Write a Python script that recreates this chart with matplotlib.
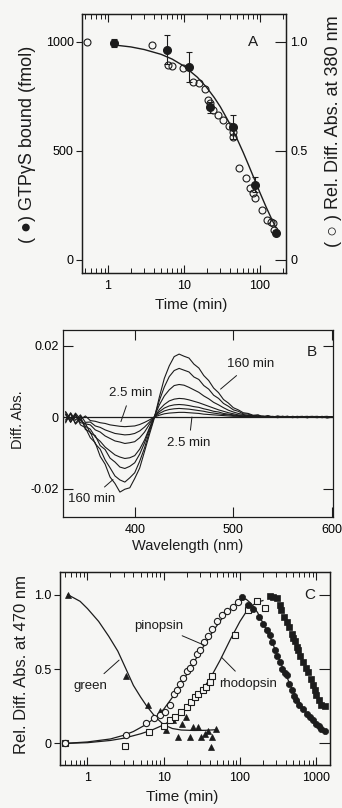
import numpy as np
import matplotlib
matplotlib.use('Agg')
import matplotlib.pyplot as plt
from matplotlib.ticker import LogLocator, NullFormatter, FixedLocator, FixedFormatter

plt.rcParams['font.family'] = ['Liberation Sans', 'DejaVu Sans']
plt.rcParams['axes.unicode_minus'] = False

# ---------------- Panel A data ----------------
gtp_t = [1.2, 6.0, 11.5, 22, 44, 86, 163]
gtp_v = [995, 965, 885, 700, 610, 345, 125]
gtp_err = [20, 65, 70, 25, 55, 35, 12]

abs_t = [0.53, 3.8, 6.2, 7.0, 9.6, 13, 15.7, 19, 21, 22, 24, 28, 33, 39, 44, 44,
         53, 65, 75, 80, 86, 106, 123, 139, 148, 152]
abs_v = [1.0, 0.986, 0.894, 0.89, 0.88, 0.817, 0.812, 0.784, 0.734, 0.72, 0.688, 0.665,
         0.642, 0.615, 0.587, 0.564, 0.422, 0.376, 0.33, 0.307, 0.284, 0.229, 0.183,
         0.174, 0.17, 0.138]

fitA_t = [1.2, 2, 3, 5, 7, 10, 15, 20, 25, 30, 40, 50, 60, 70, 85, 100, 120, 140, 163]
fitA_v = [0.986, 0.977, 0.965, 0.943, 0.921, 0.889, 0.838, 0.79, 0.745, 0.703, 0.625,
          0.555, 0.494, 0.439, 0.368, 0.308, 0.244, 0.193, 0.147]

# ---------------- Panel B data (Diff. Abs. x 1e-3) ----------------
wl = np.arange(330, 605, 5)
spec_160 = [1.2, -1.5, 0.8, -2.2, -3.0, -5.8, -7.2, -11.0, -13.2, -16.8, -18.6, -21.0, -20.2,
            -19.8, -17.2, -14.3, -9.6, -4.8, -0.2, 5.6, 10.8, 14.3, 16.9, 17.6, 17.0, 16.5,
            14.8, 13.7, 11.6, 10.2, 8.1, 6.8, 4.9, 3.9, 2.6, 2.0, 1.2, 1.0, 0.5, 0.6, 0.1,
            0.4, -0.1, 0.3, 0.0, 0.2, -0.2, 0.1, 0.2, -0.2, 0.1, -0.1, 0.2, -0.3, 0.0]
spec_80 = [-0.8, 1.0, -1.8, 0.2, -3.5, -4.2, -7.5, -9.0, -12.0, -14.2, -16.5, -17.6, -18.2,
           -17.0, -15.6, -12.4, -8.6, -4.0, 0.1, 4.6, 8.4, 11.3, 13.0, 13.6, 13.1, 12.6,
           11.2, 10.5, 8.8, 7.8, 6.1, 5.2, 3.8, 3.0, 2.0, 1.6, 0.9, 0.8, 0.3, 0.5, 0.0,
           0.3, 0.1, -0.2, 0.2, 0.0, 0.1, -0.2, 0.1, 0.2, -0.1, 0.1, -0.2, 0.1, 0.0]
spec_40 = [1.5, -0.6, 0.4, -1.6, -1.8, -4.5, -5.2, -8.0, -9.1, -11.5, -12.6, -14.0, -14.4,
           -13.8, -12.8, -10.4, -7.2, -3.3, 0.2, 3.4, 5.9, 7.6, 8.8, 9.1, 8.9, 8.3,
           7.6, 6.9, 5.9, 5.1, 4.1, 3.4, 2.6, 1.9, 1.4, 1.0, 0.7, 0.4, 0.4, 0.1, 0.3,
           0.0, 0.2, -0.1, 0.1, 0.2, -0.1, 0.1, 0.0, -0.2, 0.1, 0.2, -0.1, 0.0, 0.1]
spec_20 = [-1.2, 0.9, -2.0, -0.5, -2.6, -3.4, -5.6, -6.8, -8.4, -9.5, -10.6, -11.2, -11.6,
           -11.4, -10.8, -9.0, -6.4, -3.0, 0.0, 2.1, 3.5, 4.5, 5.0, 5.2, 5.1, 4.8,
           4.4, 4.0, 3.5, 3.0, 2.5, 2.0, 1.6, 1.2, 0.9, 0.6, 0.5, 0.2, 0.3, 0.0, 0.2,
           -0.1, 0.1, 0.2, -0.1, 0.1, 0.0, 0.2, -0.1, 0.1, 0.0, -0.2, 0.1, 0.2, -0.1]
spec_10 = [0.8, -1.4, 0.5, -1.0, -1.9, -2.2, -3.6, -4.2, -5.3, -6.0, -6.7, -7.0, -7.4,
           -7.2, -6.9, -5.8, -4.2, -2.0, 0.1, 1.5, 2.5, 3.1, 3.4, 3.5, 3.4, 3.2,
           2.9, 2.7, 2.3, 2.0, 1.6, 1.4, 1.0, 0.8, 0.6, 0.4, 0.3, 0.2, 0.1, 0.2, 0.0,
           0.1, -0.1, 0.1, 0.2, -0.1, 0.0, 0.1, -0.1, 0.1, 0.2, 0.0, -0.1, 0.1, 0.0]
spec_5 = [-1.6, 1.2, -0.9, 0.6, -1.5, -1.4, -2.5, -2.9, -3.6, -4.1, -4.6, -4.8, -5.0,
          -4.9, -4.6, -3.9, -2.8, -1.4, 0.0, 1.0, 1.7, 2.1, 2.3, 2.4, 2.3, 2.2,
          2.0, 1.8, 1.6, 1.3, 1.1, 0.9, 0.7, 0.6, 0.4, 0.3, 0.2, 0.2, 0.0, 0.1, 0.1,
          -0.1, 0.1, 0.0, 0.1, -0.1, 0.2, 0.0, 0.1, -0.1, 0.0, 0.1, 0.0, -0.1, 0.1]
spec_2p5 = [0.6, -0.9, 1.1, -0.7, 0.3, -1.0, -1.2, -1.6, -1.8, -2.2, -2.4, -2.6, -2.7,
            -2.6, -2.5, -2.1, -1.5, -0.8, 0.0, 0.5, 0.9, 1.1, 1.2, 1.3, 1.3, 1.2,
            1.1, 1.0, 0.8, 0.7, 0.6, 0.5, 0.4, 0.3, 0.2, 0.2, 0.1, 0.1, 0.0, 0.1, -0.1,
            0.1, 0.0, 0.1, -0.1, 0.0, 0.1, -0.1, 0.0, 0.1, -0.1, 0.0, 0.1, 0.0, -0.1]
spectra = [spec_2p5, spec_5, spec_10, spec_20, spec_40, spec_80, spec_160]

# ---------------- Panel C data ----------------
green_t = [0.55, 3.2, 6.2, 9.0, 10.8, 13.3, 15.6, 17.5, 19.5, 22, 24, 28, 31, 35, 38, 42, 43, 48]
green_v = [1.0, 0.45, 0.26, 0.22, 0.09, 0.155, 0.045, 0.13, 0.175, 0.04, 0.11, 0.11, 0.04,
           0.065, 0.085, -0.025, 0.04, 0.10]
green_fit_t = [0.55, 0.8, 1.0, 1.4, 1.9, 2.5, 3.2, 4.0, 5.0, 6.0, 7.7, 10, 13, 17, 25, 35, 48]
green_fit_v = [1.0, 0.955, 0.906, 0.82, 0.72, 0.62, 0.50, 0.39, 0.31, 0.25, 0.18, 0.125,
               0.10, 0.09, 0.087, 0.088, 0.092]

pin_t = [0.5, 3.2, 5.8, 7.5, 9.0, 10.5, 12, 13.5, 15, 16.5, 18, 20, 22, 24, 27, 30, 34, 38,
         43, 50, 58, 67, 80, 95]
pin_v = [0.0, 0.055, 0.14, 0.17, 0.19, 0.21, 0.26, 0.33, 0.36, 0.40, 0.44, 0.49, 0.51,
         0.55, 0.60, 0.63, 0.68, 0.72, 0.77, 0.82, 0.86, 0.89, 0.92, 0.95]
pin_dec_t = [105, 128, 150, 175, 200, 225, 245, 265, 285, 310, 333, 360, 390, 410, 440, 475,
             510, 550, 600, 680, 750, 820, 900, 1000, 1080, 1170, 1300]
pin_dec_v = [0.985, 0.93, 0.90, 0.85, 0.805, 0.76, 0.727, 0.68, 0.626, 0.59, 0.547, 0.50,
             0.47, 0.458, 0.40, 0.357, 0.32, 0.29, 0.26, 0.233, 0.20, 0.177, 0.16, 0.132,
             0.12, 0.099, 0.085]
pin_fit_t = [0.5, 1, 2, 3, 4, 6, 8, 10, 13, 17, 22, 28, 35, 45, 60, 80, 100, 120, 140, 170,
             200, 250, 300, 400, 500, 650, 800, 1000, 1300]
pin_fit_v = [0.0, 0.01, 0.03, 0.055, 0.08, 0.13, 0.18, 0.23, 0.31, 0.40, 0.50, 0.59, 0.67,
             0.76, 0.85, 0.92, 0.96, 0.97, 0.94, 0.88, 0.81, 0.71, 0.61, 0.46, 0.35, 0.25,
             0.18, 0.13, 0.09]

rho_t = [0.5, 3.1, 6.5, 10, 12, 14, 16.8, 20, 23, 26, 28, 33, 36, 40, 43, 85, 128, 165, 210]
rho_v = [0.0, -0.015, 0.075, 0.12, 0.155, 0.177, 0.21, 0.245, 0.278, 0.31, 0.334, 0.357,
         0.379, 0.41, 0.45, 0.73, 0.895, 0.96, 0.91]
rho_dec_t = [245, 275, 303, 330, 350, 380, 410, 440, 475, 500, 530, 560, 580, 620, 680, 730,
             780, 850, 920, 960, 1000, 1080, 1170, 1300]
rho_dec_v = [0.99, 0.985, 0.974, 0.93, 0.895, 0.85, 0.816, 0.78, 0.738, 0.71, 0.69, 0.65,
             0.626, 0.59, 0.547, 0.51, 0.48, 0.43, 0.39, 0.36, 0.323, 0.29, 0.256, 0.25]
rho_fit_t = [0.5, 1, 2, 3, 5, 7, 10, 14, 20, 28, 40, 55, 75, 100, 130, 170, 200]
rho_fit_v = [0.0, 0.005, 0.02, 0.035, 0.065, 0.09, 0.125, 0.17, 0.24, 0.32, 0.43, 0.56,
             0.70, 0.82, 0.91, 0.95, 0.96]

# ---------------- Figure ----------------
W, H = 342, 808
INK = '#1c1c1c'
BG = '#f6f6f4'
fig = plt.figure(figsize=(W / 100, H / 100), dpi=100, facecolor=BG)


def rect(l, r, t, b):
    return [l / W, 1 - b / H, (r - l) / W, (b - t) / H]


def style_spines(ax):
    for s in ax.spines.values():
        s.set_linewidth(0.9)
        s.set_color(INK)
    ax.set_facecolor('none')


def log_x(ax, major):
    ax.set_xscale('log')
    ax.xaxis.set_major_locator(FixedLocator(major))
    ax.xaxis.set_major_formatter(FixedFormatter([str(m) for m in major]))
    ax.xaxis.set_minor_locator(LogLocator(base=10, subs=np.arange(2, 10), numticks=30))
    ax.xaxis.set_minor_formatter(NullFormatter())
    ax.tick_params(axis='x', which='both', direction='in', top=True, bottom=True, color=INK)
    ax.tick_params(axis='x', which='major', length=6, width=0.8, labelsize=9, pad=5)
    ax.tick_params(axis='x', which='minor', length=3.5, width=0.7)


TICKFS = 9
LBLFS = 9.5

# ---- Panel A ----
axA = fig.add_axes(rect(82, 286, 14, 273))
style_spines(axA)
log_x(axA, [1, 10, 100])
axA.set_xlim(0.455, 220)
axA.set_ylim(-60, 1128)
axA.set_yticks([0, 500, 1000])
axA.set_yticklabels(['0', '500', '1000'])
axA.tick_params(axis='y', direction='out', length=4, width=0.8, labelsize=TICKFS, pad=2,
                left=True, right=False, color=INK)
axA.errorbar(gtp_t, gtp_v, yerr=gtp_err, fmt='o', color=INK, ms=5.5, capsize=2.5,
             elinewidth=0.8, capthick=0.8, zorder=5)
axA2 = axA.twinx()
style_spines(axA2)
axA2.set_ylim(-0.060, 1.128)
axA2.set_yticks([0, 0.5, 1.0])
axA2.set_yticklabels(['0', '0.5', '1.0'])
axA2.tick_params(axis='y', direction='in', length=8, width=0.8, labelsize=TICKFS, pad=3,
                 color=INK)
axA2.plot(fitA_t, fitA_v, '-', color=INK, lw=1.0)
axA2.plot(abs_t, abs_v, 'o', mfc='none', mec=INK, ms=5, mew=0.8, clip_on=False)
axA.text(80, 1000, 'A', fontsize=11, ha='center', va='center', color=INK)

fig.text(28 / W, 1 - 144 / H, '( \u25cf) GTP\u03b3S bound (fmol)', rotation=90,
         ha='center', va='center', fontsize=13, color=INK)
fig.text(334 / W, 1 - 131 / H, '( \u25cb ) Rel. Diff. Abs. at 380 nm', rotation=90,
         ha='center', va='center', fontsize=13, color=INK)
fig.text(191 / W, 1 - 305 / H, 'Time (min)', ha='center', va='center', fontsize=11,
         color=INK)

# ---- Panel B ----
axB = fig.add_axes(rect(63, 333, 330, 517))
style_spines(axB)
axB.set_xlim(327.3, 601)
axB.set_ylim(-0.02797, 0.02434)
axB.set_xticks([400, 500, 600])
axB.set_xticklabels(['400', '500', '600'])
axB.set_yticks([-0.02, 0, 0.02])
axB.set_yticklabels(['-0.02', '0', '0.02'])
axB.tick_params(axis='both', direction='in', length=7, width=0.8, labelsize=TICKFS,
                top=True, right=True, color=INK)
axB.tick_params(axis='x', pad=5)
axB.tick_params(axis='y', pad=3)
axB.axhline(0, color=INK, lw=0.9)
for s in spectra:
    axB.plot(wl, np.array(s) * 1e-3, '-', color=INK, lw=0.8)
axB.text(580, 0.0182, 'B', fontsize=11, ha='center', va='center', color=INK)
arrow = dict(arrowstyle='-', color=INK, lw=0.7, shrinkA=3, shrinkB=0)
axB.annotate('2.5 min', xy=(386, -0.0013), xytext=(396, 0.0067), fontsize=LBLFS,
             ha='center', va='center', color=INK, arrowprops=arrow)
axB.annotate('160 min', xy=(487, 0.0078), xytext=(517, 0.0148), fontsize=LBLFS,
             ha='center', va='center', color=INK, arrowprops=arrow)
axB.annotate('2.5 min', xy=(458, 0.0), xytext=(455, -0.0073), fontsize=LBLFS,
             ha='center', va='center', color=INK, arrowprops=arrow)
axB.annotate('160 min', xy=(378, -0.0175), xytext=(356, -0.0228), fontsize=LBLFS,
             ha='center', va='center', color=INK, arrowprops=arrow)
fig.text(18 / W, 1 - 420 / H, 'Diff. Abs.', rotation=90, ha='center', va='center',
         fontsize=10.5, color=INK)
fig.text(188 / W, 1 - 546 / H, 'Wavelength (nm)', ha='center', va='center',
         fontsize=10.5, color=INK)

# ---- Panel C ----
axC = fig.add_axes(rect(60, 330, 572, 765))
style_spines(axC)
log_x(axC, [1, 10, 100, 1000])
axC.set_xlim(0.436, 1516)
axC.set_ylim(-0.145, 1.152)
axC.set_yticks([0, 0.5, 1.0])
axC.set_yticklabels(['0', '0.5', '1.0'])
axC.tick_params(axis='y', which='both', direction='out', length=4, width=0.8,
                labelsize=TICKFS, pad=2, left=True, color=INK)
axC2 = axC.twinx()
axC2.set_ylim(axC.get_ylim())
axC2.set_yticks([0, 0.5, 1.0])
axC2.set_yticklabels([])
axC2.tick_params(axis='y', direction='in', length=8, width=0.8, color=INK)
style_spines(axC2)

axC.plot(green_fit_t, green_fit_v, '-', color=INK, lw=0.9)
axC.plot(pin_fit_t, pin_fit_v, '-', color=INK, lw=0.9)
axC.plot(rho_fit_t, rho_fit_v, '-', color=INK, lw=0.9)
axC.plot(green_t, green_v, '^', color=INK, ms=4.5, mew=0.5, clip_on=False)
axC.plot(rho_t, rho_v, 's', mfc=BG, mec=INK, ms=5, mew=0.8, clip_on=False)
axC.plot(pin_t, pin_v, 'o', mfc=BG, mec=INK, ms=4.5, mew=0.8, clip_on=False)
axC.plot(rho_dec_t, rho_dec_v, 's', color=INK, ms=4.5, mew=0.5)
axC.plot(pin_dec_t, pin_dec_v, 'o', color=INK, ms=4.5, mew=0.5)
axC.text(820, 1.0, 'C', fontsize=11, ha='center', va='center', color=INK)
axC.annotate('green', xy=(2.6, 0.56), xytext=(1.08, 0.385), fontsize=LBLFS,
             ha='center', va='center', color=INK,
             arrowprops=dict(arrowstyle='-', color=INK, lw=0.7, shrinkA=4, shrinkB=0))
axC.annotate('pinopsin', xy=(34, 0.66), xytext=(8.7, 0.79), fontsize=LBLFS,
             ha='center', va='center', color=INK,
             arrowprops=dict(arrowstyle='-', color=INK, lw=0.7, shrinkA=2, shrinkB=0))
axC.annotate('rhodopsin', xy=(57, 0.58), xytext=(127, 0.40), fontsize=LBLFS,
             ha='center', va='center', color=INK,
             arrowprops=dict(arrowstyle='-', color=INK, lw=0.7, shrinkA=4, shrinkB=0))
fig.text(22 / W, 1 - 664 / H, 'Rel. Diff. Abs. at 470 nm', rotation=90, ha='center',
         va='center', fontsize=12, color=INK)
fig.text(182 / W, 1 - 797 / H, 'Time (min)', ha='center', va='center', fontsize=11,
         color=INK)

fig.savefig('out.png', dpi=100, facecolor=fig.get_facecolor())
